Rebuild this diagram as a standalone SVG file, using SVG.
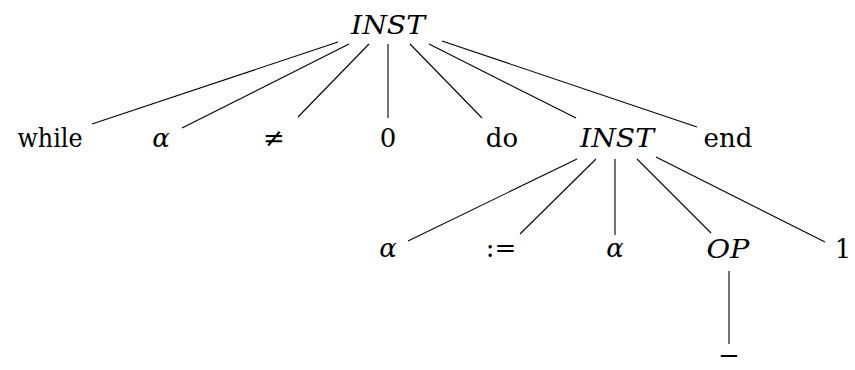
<svg xmlns="http://www.w3.org/2000/svg" width="855" height="370" viewBox="0 0 855 370">
<style>
text{font-family:'DejaVu Serif',serif;font-size:26px;fill:#000;text-anchor:middle}
.i{font-style:italic}
.e line{stroke:#000;stroke-width:1.1}
</style>
<rect width="855" height="370" fill="#fff"/>
<g id="connectors" class="e">
<line x1="338" y1="42" x2="92" y2="124"/>
<line x1="349" y1="44" x2="182" y2="128"/>
<line x1="369" y1="44" x2="298" y2="117"/>
<line x1="388" y1="44" x2="388" y2="118"/>
<line x1="410" y1="44" x2="482" y2="118"/>
<line x1="429" y1="44" x2="576" y2="118"/>
<line x1="442" y1="41" x2="697" y2="127"/>
<line x1="577" y1="159" x2="408" y2="241"/>
<line x1="596" y1="159" x2="520" y2="234"/>
<line x1="615" y1="159" x2="615" y2="235"/>
<line x1="637" y1="159" x2="711" y2="233"/>
<line x1="656" y1="157" x2="825" y2="242"/>
<line x1="729" y1="271" x2="729" y2="344"/>
</g>
<g id="n-inst-top"><text class="i" x="388" y="34" textLength="74" lengthAdjust="spacingAndGlyphs">INST</text></g>
<g id="n-while"><text x="50" y="147" textLength="65" lengthAdjust="spacingAndGlyphs">while</text></g>
<g id="n-alpha1"><text class="i" x="161" y="147">α</text></g>
<g id="n-neq"><text x="274" y="147">≠</text></g>
<g id="n-zero"><text x="388" y="147">0</text></g>
<g id="n-do"><text x="502" y="147">do</text></g>
<g id="n-inst2"><text class="i" x="617" y="147" textLength="74" lengthAdjust="spacingAndGlyphs">INST</text></g>
<g id="n-end"><text x="728" y="147">end</text></g>
<g id="n-alpha2"><text class="i" x="388" y="257">α</text></g>
<g id="n-assign"><text x="501" y="257">:=</text></g>
<g id="n-alpha3"><text class="i" x="615" y="257">α</text></g>
<g id="n-op"><text class="i" x="728" y="258" textLength="43" lengthAdjust="spacingAndGlyphs">OP</text></g>
<g id="n-one"><text x="843" y="258">1</text></g>
<g id="n-minus"><text x="729" y="364">−</text></g>
</svg>
